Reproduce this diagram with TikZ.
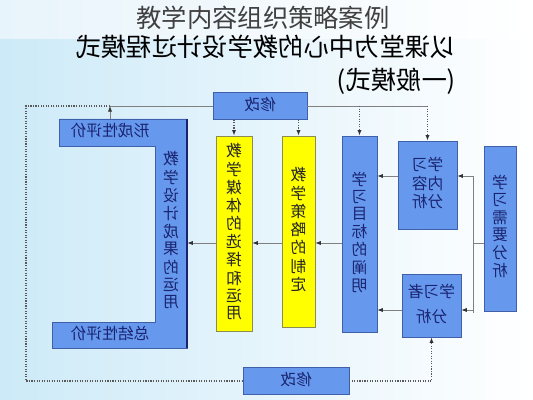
\documentclass[tikz,border=0pt]{standalone}
\usepackage{fontspec}
\usepackage{graphicx}
\newfontfamily\cjk{Noto Sans CJK SC}
\usetikzlibrary{arrows.meta}
\definecolor{boxblue}{HTML}{6699EE}
\definecolor{boxline}{HTML}{3F5FA8}
\definecolor{navy}{HTML}{1A2470}
\definecolor{ybright}{HTML}{FFFF00}
\definecolor{yline}{HTML}{8C8C50}
\definecolor{wirec}{HTML}{808080}
\definecolor{bgblue}{HTML}{CDEAF8}
\definecolor{bgtop}{HTML}{E8F4FB}
\newcommand{\flip}[1]{\reflectbox{\renewcommand\arraystretch{0.9}\begin{tabular}{@{}c@{}}#1\end{tabular}}}

\begin{document}
\begin{tikzpicture}[x=0.025cm,y=-0.025cm,
   box/.style={rectangle,draw=boxline,fill=boxblue,inner sep=0pt,
    text=navy,font=\cjk\fontsize{11.2}{13}\selectfont},
   ybox/.style={box,draw=yline,fill=ybright,text=black!85},
   lbl/.style={inner sep=0pt,text=navy,font=\cjk\fontsize{11.2}{13}\selectfont},
   wire/.style={draw=wirec,line width=0.6pt},
   arr/.style={wire,-{Latex[length=4pt,width=3pt,color=black!80]}},
   dots/.style={draw=black!65,line width=0.8pt,densely dotted},
   dotarr/.style={dots,-{Latex[length=4pt,width=3pt,color=black!80]}}
    ]

    % background
    \useasboundingbox (0,0) rectangle (533,400);
    \shade[left color=bgtop,right color=white] (0,0) rectangle (533,40);
    \shade[left color=bgblue,right color=white] (0,40) rectangle (533,400);

    % titles
    \node[text=black!75,font=\cjk\fontsize{18}{22}\selectfont] (title) at (263,18) {教学内容组织策略案例};
    \node[anchor=north east,inner sep=0pt,font=\cjk\fontsize{18}{23}\selectfont] (sub) at (456,34)
      {\reflectbox{\begin{tabular}{@{}l@{}}以课堂为中心的教学设计过程模式\\(一般模式)\end{tabular}}};

    % Boxes:
    \node[box,minimum width=0.8cm,minimum height=4.125cm] at (500,228.5) (need) {\flip{学\\习\\需\\要\\分\\析}};
    \node[box,minimum width=1.475cm,minimum height=2.2cm] at (427.5,185) (content) {\flip{学习\\内容\\分析}};
    \node[box,minimum width=1.475cm,minimum height=1.575cm] at (431.5,305.5) (learner) {\flip{学习者\\[5pt]分析}};
    \node[box,minimum width=0.875cm,minimum height=4.9cm] at (359.5,234) (goal) {\flip{学\\习\\目\\标\\的\\阐\\明}};
    \node[ybox,minimum width=0.825cm,minimum height=4.775cm] at (298.5,231.5) (strategy) {\flip{教\\学\\策\\略\\的\\制\\定}};
    \node[ybox,minimum width=0.9cm,minimum height=4.875cm] at (234,233.5) (media) {\flip{教\\学\\媒\\体\\的\\选\\择\\和\\运\\用}};
    \node[box,minimum width=2.35cm,minimum height=0.675cm] at (260,106) (fixTop) {\flip{修改}};
    \node[box,minimum width=2.65cm,minimum height=0.675cm] at (296,381) (fixBot) {\flip{修改}};

    % bracket of results and evaluation
    \filldraw[fill=boxblue,draw=boxline] (59,119) -- (187,119) -- (187,348) -- (52,348)
      -- (52,322) -- (155,322) -- (155,146) -- (59,146) -- cycle;
    \draw[navy,line width=1pt] (187,119) -- (187,348);
    \node[lbl,minimum width=2.4cm,minimum height=0.675cm] at (110,132.5) (form) {\flip{形成性评价}};
    \node[lbl,minimum width=0.8cm,minimum height=5.7cm] at (171,232) (result) {\flip{教\\学\\设\\计\\成\\果\\的\\运\\用}};
    \node[lbl,minimum width=2.4cm,minimum height=0.65cm] at (110,335) (summ) {\flip{总结性评价}};

    % helper points
    \coordinate (flow) at (0,243);
    \coordinate (rowA) at (0,176);
    \coordinate (rowB) at (0,310);
    \coordinate (split) at (473,243);
    \coordinate (loopTL) at (26,106);
    \coordinate (loopBL) at (26,381);

    % arrows
    \draw[wire] (need.west |- flow) -- (split);
    \draw[wire] (split |- rowA) -- ([yshift=-0.075cm]split |- rowB);
    \draw[arr] (split |- rowA) -- (content.east |- rowA);
    \draw[arr] (split |- rowB) -- (learner.east |- rowB);
    \draw[arr] (content.west |- rowA) -- (goal.east |- rowA);
    \draw[arr] (learner.west |- rowB) -- (goal.east |- rowB);
    \draw[arr] (goal.west |- flow) -- (strategy.east |- flow);
    \draw[arr] (strategy.west |- flow) -- (media.east |- flow);
    \draw[arr] (media.west |- flow) -- (result.east |- flow);

    % feedback lines
    \draw[wire] (fixTop.east) -- (fixTop.east -| content.north);
    \draw[dotarr] (fixTop.east -| goal.north) -- (goal.north);
    \draw[dotarr] (fixTop.east -| content.north) -- (content.north);
    \draw[dotarr] (fixTop.south -| media.north) -- (media.north);
    \draw[dotarr] (fixTop.south -| strategy.north) -- (strategy.north);
    \draw[wire] (fixTop.west) -- (fixTop.west -| form.north);
    \draw[arr] (form.north) -- (form.north |- fixTop.west);
    \draw[dots] (form.north |- fixTop.west) -- (loopTL) -- (loopBL) -- (fixBot.west);
    \draw[dotarr] (fixBot.east) -- (fixBot.east -| learner.south) -- (learner.south);

\end{tikzpicture}
\end{document}
